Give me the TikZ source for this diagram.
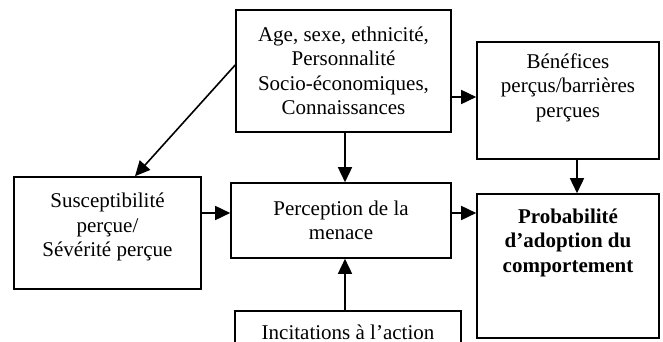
\documentclass[tikz,border=0pt]{standalone}
\usepackage{fontspec}
\setmainfont{Liberation Serif}
\usetikzlibrary{arrows.meta}

\begin{document}
\begin{tikzpicture}[
        x=1pt, y=-1pt,
        box/.style={draw, line width=1.6pt, align=center, inner sep=0pt,
            font=\fontsize{21}{24.5}\selectfont},
        arr/.style={line width=1.6pt, -{Triangle[length=15pt,width=14pt]}}
    ]
    \useasboundingbox (0,0) rectangle (663,342);
    \node[box, minimum width=215pt, minimum height=122pt] (facteurs) at (343.5,71)
        {Age, sexe, ethnicité,\\ Personnalité\\ Socio-économiques,\\ Connaissances};
    \node[box, minimum width=187pt, minimum height=112pt, text depth=16pt] (susc) at (107.5,233)
        {Susceptibilité\\ perçue/\\ Sévérité perçue};
    \node[box, minimum width=220pt, minimum height=75pt] (menace) at (341,220.5)
        {Perception de la\\ menace};
    \node[box, minimum width=182pt, minimum height=117pt, text depth=30pt] (benef) at (568,100.5)
        {Bénéfices\\ perçus/barrières\\ perçues};
    \node[box, minimum width=182pt, minimum height=144pt, text depth=51pt,
          font=\fontsize{21}{24.5}\selectfont\bfseries] (proba) at (568,266)
        {Probabilité\\ d'adoption du\\ comportement};
    \node[box, minimum width=226pt, inner ysep=14pt, text depth=0pt, anchor=north] (incit) at (348,310)
        {Incitations à l'action};

    \draw[arr] (facteurs.west |- 0,65) -- (susc.north -| 135,0);
    \draw[arr] (facteurs.east |- 0,97) -- (benef.west |- 0,97);
    \draw[arr] (facteurs.south -| 345,0) -- (menace.north -| 345,0);
    \draw[arr] (incit.north -| 345,0) -- (menace.south -| 345,0);
    \draw[arr] (susc.east |- 0,213) -- (menace.west |- 0,213);
    \draw[arr] (menace.east |- 0,213) -- (proba.west |- 0,213);
    \draw[arr] (benef.south -| 577,0) -- (proba.north -| 577,0);
\end{tikzpicture}
\end{document}
